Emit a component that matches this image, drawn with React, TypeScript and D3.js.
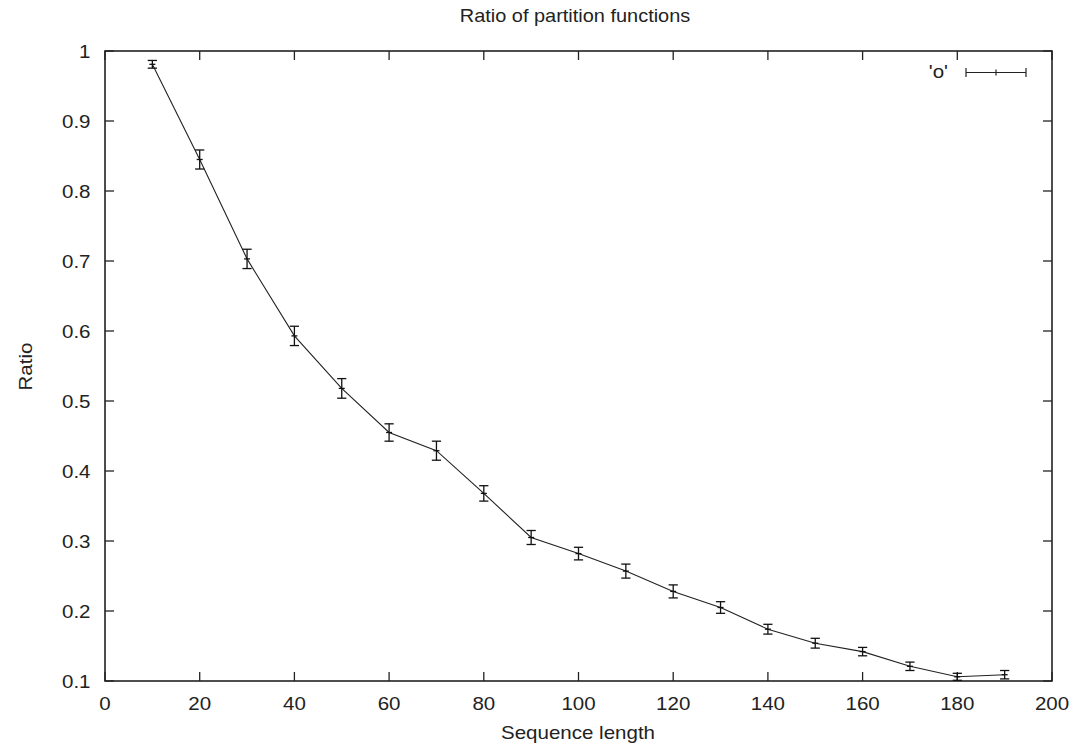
import React from "react";
import * as d3 from "d3";

const lengths = [10, 20, 30, 40, 50, 60, 70, 80, 90, 100, 110, 120, 130, 140, 150, 160, 170, 180, 190];
const ratios = [0.981, 0.845, 0.703, 0.593, 0.518, 0.455, 0.429, 0.368, 0.305, 0.282, 0.257, 0.228, 0.205, 0.174, 0.154, 0.142, 0.121, 0.106, 0.109];
const errors = [0.0055, 0.0136, 0.0138, 0.0138, 0.014, 0.0124, 0.0136, 0.011, 0.01, 0.009, 0.01, 0.0093, 0.0083, 0.007, 0.007, 0.006, 0.006, 0.005, 0.006];
const xTicks = [0, 20, 40, 60, 80, 100, 120, 140, 160, 180, 200];
const yTicks = [0.1, 0.2, 0.3, 0.4, 0.5, 0.6, 0.7, 0.8, 0.9, 1];

const W = 1073;
const H = 746;
const left = 105;
const right = 1052;
const top = 51;
const bottom = 681;
const font = "'Liberation Sans', Arial, Helvetica, sans-serif";
const SX = 1.14;

function T(props: { x: number; y: number; anchor?: string; size?: number; rotate?: number; children: React.ReactNode }) {
  const { x, y, anchor = "start", size = 18, rotate = 0, children } = props;
  return (
    <g transform={`translate(${x},${y}) rotate(${rotate}) scale(${SX},1)`}>
      <text x={0} y={0} textAnchor={anchor as any} fontFamily={font} fontSize={size} fill="#222">
        {children}
      </text>
    </g>
  );
}

export default function App() {
  const x = d3.scaleLinear().domain([0, 200]).range([left, right]);
  const y = d3.scaleLinear().domain([0.1, 1]).range([bottom, top]);
  const pts = lengths.map((l, i) => ({ l, r: ratios[i], e: errors[i] }));
  const line = d3.line<{ l: number; r: number }>().x((d) => x(d.l)).y((d) => y(d.r));
  const tick = 9;
  const cap = 4.6;
  const fmtY = (v: number) => (v === 1 ? "1" : d3.format(".1f")(v));

  return (
    <svg width={W} height={H} style={{ position: "absolute", left: 0, top: 0, background: "#fff" }}>
      <rect x={0} y={0} width={W} height={H} fill="#fff" />
      <T x={575} y={22} anchor="middle" size={17.5}>Ratio of partition functions</T>
      {xTicks.map((t) => (
        <g key={"x" + t}>
          <line x1={x(t)} x2={x(t)} y1={bottom} y2={bottom - tick} stroke="#222" strokeWidth={1.3} />
          <line x1={x(t)} x2={x(t)} y1={top} y2={top + tick} stroke="#222" strokeWidth={1.3} />
          <T x={x(t)} y={710} anchor="middle">{t}</T>
        </g>
      ))}
      {yTicks.map((t) => (
        <g key={"y" + t}>
          <line x1={left} x2={left + tick} y1={y(t)} y2={y(t)} stroke="#222" strokeWidth={1.3} />
          <line x1={right} x2={right - tick} y1={y(t)} y2={y(t)} stroke="#222" strokeWidth={1.3} />
          <T x={90.5} y={y(t) + 6.5} anchor="end">{fmtY(t)}</T>
        </g>
      ))}
      <rect x={left} y={top} width={right - left} height={bottom - top} fill="none" stroke="#222" strokeWidth={1.6} />
      <T x={32} y={366.5} anchor="middle" rotate={-90}>Ratio</T>
      <T x={578} y={739} anchor="middle">Sequence length</T>
      <path d={line(pts) || ""} fill="none" stroke="#222" strokeWidth={1.1} />
      {pts.map((p, i) => (
        <g key={"p" + i} stroke="#111" strokeWidth={1.3}>
          <line x1={x(p.l)} x2={x(p.l)} y1={y(p.r - p.e)} y2={y(p.r + p.e)} />
          <line x1={x(p.l) - cap} x2={x(p.l) + cap} y1={y(p.r - p.e)} y2={y(p.r - p.e)} />
          <line x1={x(p.l) - cap} x2={x(p.l) + cap} y1={y(p.r + p.e)} y2={y(p.r + p.e)} />
          <line x1={x(p.l) - 3} x2={x(p.l) + 3} y1={y(p.r)} y2={y(p.r)} />
        </g>
      ))}
      <T x={948} y={78} anchor="end">'o'</T>
      <g stroke="#222" strokeWidth={1.2}>
        <line x1={966} x2={1026} y1={72.5} y2={72.5} />
        <line x1={966} x2={966} y1={68} y2={77} />
        <line x1={1026} x2={1026} y1={68} y2={77} />
        <line x1={996} x2={996} y1={69.5} y2={75.5} />
      </g>
    </svg>
  );
}
